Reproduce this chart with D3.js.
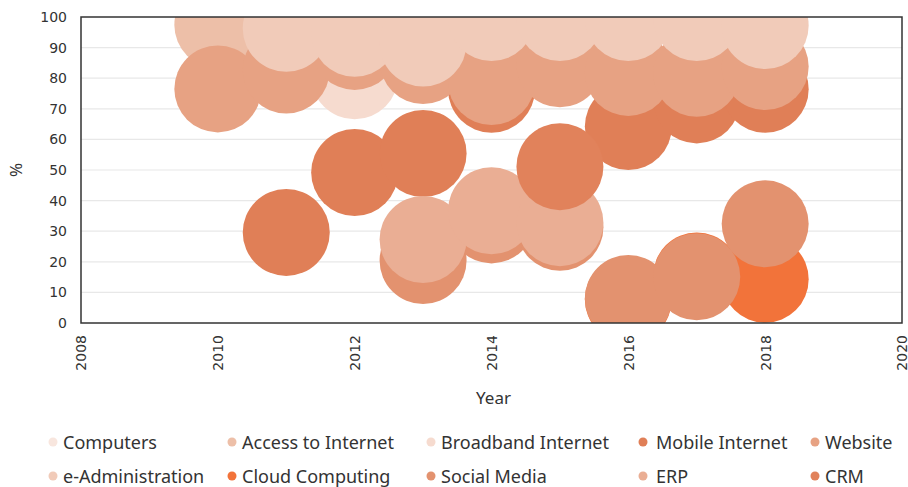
<!DOCTYPE html>
<html>
<head>
<meta charset="utf-8">
<script src="https://cdn.jsdelivr.net/npm/d3@7"></script>
<style>
  body { margin: 0; background: #fff; }
  .tick text { font-family: "DejaVu Sans", sans-serif; font-size: 14px; fill: #333; }
  .label, .legend text { font-family: "Noto Sans", sans-serif; fill: #333; }
</style>
</head>
<body>
<div id="chart"></div>
<script>
// series, in drawing order (later ones sit on top)
const seriesNames = ["Computers", "Access to Internet", "Broadband Internet", "Mobile Internet", "Website",
  "e-Administration", "Cloud Computing", "Social Media", "ERP", "CRM"];
const seriesColors = ["#f8e6de", "#edbfa8", "#f6dbcf", "#e07f57", "#e7a283",
  "#f1cbb9", "#f2733a", "#e3926f", "#eaae94", "#e1825b"];

// [year, %]
const computers = [[2012, 99]];
const accessToInternet = [[2010, 97.4]];
const broadbandInternet = [[2012, 80.8]];
const mobileInternet = [[2011, 29.6], [2012, 49.2], [2013, 55.4], [2014, 76.4], [2016, 64.2], [2017, 72.9], [2018, 76.4]];
const website = [[2010, 76.5], [2011, 82.7], [2012, 90.4], [2013, 85.8], [2014, 78.9], [2015, 84.7], [2016, 81.9], [2017, 81.6], [2018, 83.8]];
const eAdministration = [[2011, 96.3], [2012, 94.7], [2013, 91.5], [2014, 99.8], [2015, 99.8], [2016, 99.8], [2017, 99.8], [2018, 97.2]];
const cloudComputing = [[2016, 7.7], [2017, 15.4], [2018, 14.3]];
const socialMedia = [[2013, 20.4], [2014, 33.7], [2015, 31.3], [2016, 8.0], [2017, 15.1], [2018, 32.4]];
const erp = [[2013, 27.3], [2014, 36.7], [2015, 32.8]];
const crm = [[2015, 51.1]];

const seriesValues = [computers, accessToInternet, broadbandInternet, mobileInternet, website,
  eAdministration, cloudComputing, socialMedia, erp, crm];

const xTicks = [2008, 2010, 2012, 2014, 2016, 2018, 2020];
const yTicks = [0, 10, 20, 30, 40, 50, 60, 70, 80, 90, 100];

const width = 908, height = 487;
const margin = { top: 17, right: 6, bottom: 164, left: 81 };
const innerW = width - margin.left - margin.right;
const innerH = height - margin.top - margin.bottom;
const bubbleR = 43.5;

const svg = d3.select("#chart").append("svg")
  .attr("width", width)
  .attr("height", height);

const x = d3.scaleLinear().domain([2008, 2020]).range([0, innerW]);
const y = d3.scaleLinear().domain([0, 100]).range([innerH, 0]);

const g = svg.append("g")
  .attr("transform", "translate(" + margin.left + "," + margin.top + ")");

svg.append("defs").append("clipPath").attr("id", "plot-clip")
  .append("rect").attr("width", innerW).attr("height", innerH);

// gridlines
g.append("g")
  .selectAll("line")
  .data(yTicks.slice(1, -1))
  .join("line")
  .attr("x1", 0).attr("x2", innerW)
  .attr("y1", d => y(d)).attr("y2", d => y(d))
  .attr("stroke", "#e8e8e8")
  .attr("stroke-width", 1.2);

// bubbles
const plot = g.append("g").attr("clip-path", "url(#plot-clip)");
seriesValues.forEach((vals, i) => {
  plot.append("g")
    .selectAll("circle")
    .data(vals)
    .join("circle")
    .attr("cx", d => x(d[0]))
    .attr("cy", d => y(d[1]))
    .attr("r", bubbleR)
    .attr("fill", seriesColors[i]);
});

// axes
const yAxis = g.append("g")
  .call(d3.axisLeft(y).tickValues(yTicks).tickSize(0).tickPadding(14));
yAxis.select(".domain").remove();

const xAxis = g.append("g")
  .attr("transform", "translate(0," + innerH + ")")
  .call(d3.axisBottom(x).tickValues(xTicks).tickFormat(d3.format("d")).tickSize(0));
xAxis.select(".domain").remove();
xAxis.selectAll("text")
  .attr("transform", "rotate(-90)")
  .attr("text-anchor", "end")
  .attr("x", -12)
  .attr("y", 0)
  .attr("dy", "0.35em");

// frame
g.append("rect")
  .attr("width", innerW).attr("height", innerH)
  .attr("fill", "none")
  .attr("stroke", "#333")
  .attr("stroke-width", 1.5);

// axis titles
svg.append("text")
  .attr("class", "label")
  .attr("x", margin.left + innerW / 2 + 2)
  .attr("y", 404)
  .attr("text-anchor", "middle")
  .style("font-size", "17px")
  .text("Year");

svg.append("text")
  .attr("class", "label")
  .attr("transform", "translate(22," + (margin.top + innerH / 2) + ") rotate(-90)")
  .attr("text-anchor", "middle")
  .style("font-size", "17px")
  .text("%");

// legend: 5 columns, 2 rows
const legendCols = [53, 232, 431, 643, 815];
const legendTextOffset = [10, 10, 10, 13, 10];
const legendRows = [443, 477];
const legend = svg.append("g").attr("class", "legend");
seriesNames.forEach((name, i) => {
  const col = i % 5, row = Math.floor(i / 5);
  const item = legend.append("g")
    .attr("transform", "translate(" + legendCols[col] + "," + legendRows[row] + ")");
  item.append("circle").attr("r", 4.5).attr("cy", -1).attr("fill", seriesColors[i]);
  item.append("text")
    .attr("x", legendTextOffset[col])
    .attr("dy", "0.32em")
    .style("font-size", "18px")
    .text(name);
});
</script>
</body>
</html>
